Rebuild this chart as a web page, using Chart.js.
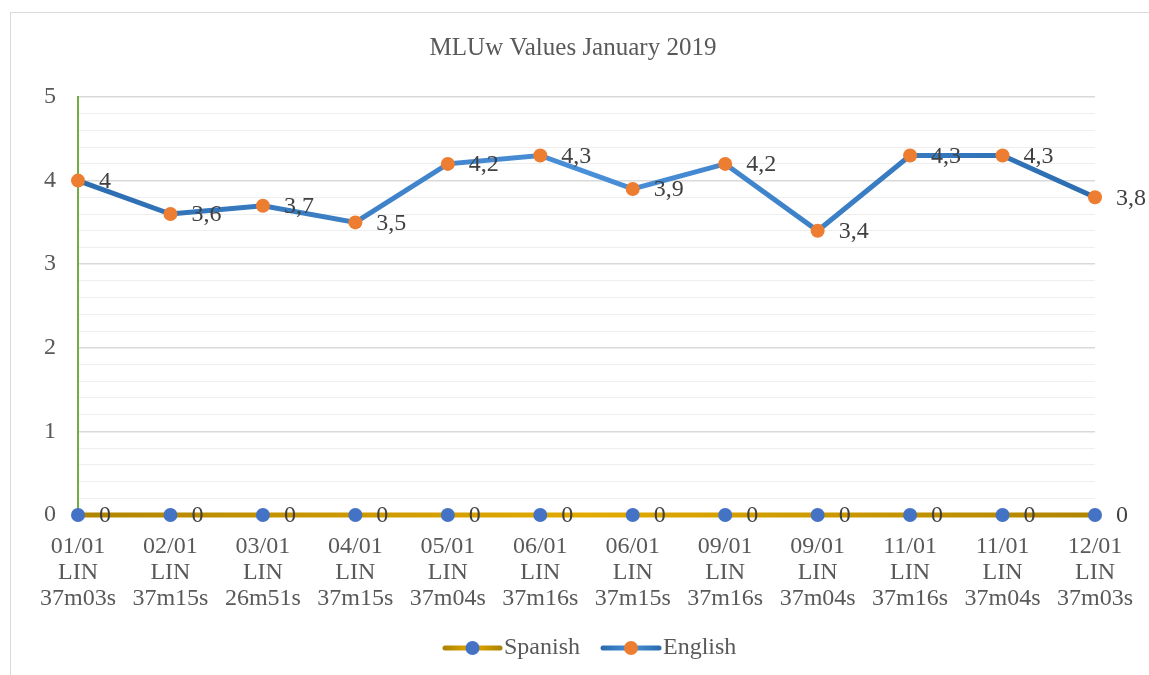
<!DOCTYPE html>
<html>
<head>
<meta charset="utf-8">
<title>MLUw Values January 2019</title>
<script src="https://cdn.jsdelivr.net/npm/chart.js@4/dist/chart.umd.min.js"></script>
<style>
  html, body { margin: 0; padding: 0; background: #fff; }
  #wrap { position: relative; width: 1149px; height: 675px; }
</style>
</head>
<body>
<div id="wrap"><canvas id="mluChart" width="1149" height="675"></canvas></div>
<script>
// ---- data ----
const sessions = [
    ['01/01', 'LIN', '37m03s'], ['02/01', 'LIN', '37m15s'], ['03/01', 'LIN', '26m51s'],
    ['04/01', 'LIN', '37m15s'], ['05/01', 'LIN', '37m04s'], ['06/01', 'LIN', '37m16s'],
    ['06/01', 'LIN', '37m15s'], ['09/01', 'LIN', '37m16s'], ['09/01', 'LIN', '37m04s'],
    ['11/01', 'LIN', '37m16s'], ['11/01', 'LIN', '37m04s'], ['12/01', 'LIN', '37m03s']
];
const spanishValues = [0, 0, 0, 0, 0, 0, 0, 0, 0, 0, 0, 0];
const englishValues = [4, 3.6, 3.7, 3.5, 4.2, 4.3, 3.9, 4.2, 3.4, 4.3, 4.3, 3.8];
const yTicks = { min: 0, max: 5, step: 0.2 };
const chartTitle = 'MLUw Values January 2019';

const FONT = "'Liberation Serif', 'Times New Roman', serif";
const TEXT = '#595959';

// horizontal gradient, dark at the ends and lighter in the middle
function hGradient(context, dark, light) {
    const { ctx, chartArea } = context.chart;
    if (!chartArea) return dark;
    const g = ctx.createLinearGradient(chartArea.left, 0, chartArea.right, 0);
    g.addColorStop(0, dark);
    g.addColorStop(0.5, light);
    g.addColorStop(1, dark);
    return g;
}

const isWhole = v => Math.abs(v - Math.round(v)) < 1e-6;

// frame round the whole chart + title centred on the page
const framePlugin = {
    id: 'frame',
    beforeDraw(chart) {
        const ctx = chart.ctx;
        ctx.save();
        ctx.strokeStyle = '#d9d9d9';
        ctx.lineWidth = 1;
        ctx.strokeRect(10.5, 12.5, 1160, 700);
        ctx.font = '25px ' + FONT;
        ctx.fillStyle = TEXT;
        ctx.textAlign = 'center';
        ctx.textBaseline = 'middle';
        ctx.fillText(chartTitle, 573, 48);
        ctx.restore();
    }
};

// value labels to the right of each point
const valueLabels = {
    id: 'valueLabels',
    afterDatasetsDraw(chart) {
        const ctx = chart.ctx;
        ctx.save();
        ctx.font = '24px ' + FONT;
        ctx.fillStyle = '#404040';
        ctx.textAlign = 'left';
        ctx.textBaseline = 'middle';
        chart.data.datasets.forEach((ds, i) => {
            chart.getDatasetMeta(i).data.forEach((pt, j) => {
                const txt = String(ds.data[j]).replace('.', ',');
                ctx.fillText(txt, pt.x + 21, pt.y + 1);
            });
        });
        ctx.restore();
    }
};

// legend drawn like Excel: line with a marker in the middle
const lineLegend = {
    id: 'lineLegend',
    afterDraw(chart) {
        const ctx = chart.ctx;
        const y = 648;
        const items = [
            { x0: 445, x1: 500, label: 'Spanish', dark: '#b08400', light: '#e3ab00', marker: '#4472c4' },
            { x0: 603, x1: 659, label: 'English', dark: '#2c6db0', light: '#4a90d9', marker: '#ed7d31' }
        ];
        ctx.save();
        items.forEach(it => {
            const g = ctx.createLinearGradient(it.x0, 0, it.x1, 0);
            g.addColorStop(0, it.dark);
            g.addColorStop(0.5, it.light);
            g.addColorStop(1, it.dark);
            ctx.strokeStyle = g;
            ctx.lineWidth = 5;
            ctx.lineCap = 'round';
            ctx.beginPath();
            ctx.moveTo(it.x0, y);
            ctx.lineTo(it.x1, y);
            ctx.stroke();
            ctx.fillStyle = it.marker;
            ctx.beginPath();
            ctx.arc((it.x0 + it.x1) / 2, y, 7, 0, Math.PI * 2);
            ctx.fill();
            ctx.font = '24px ' + FONT;
            ctx.fillStyle = TEXT;
            ctx.textAlign = 'left';
            ctx.textBaseline = 'middle';
            ctx.fillText(it.label, it.x1 + 4, y);
        });
        ctx.restore();
    }
};

new Chart(document.getElementById('mluChart'), {
    type: 'line',
    data: {
        labels: sessions,
        datasets: [
            {
                label: 'Spanish',
                data: spanishValues,
                borderColor: ctx => hGradient(ctx, '#b08400', '#e3ab00'),
                borderWidth: 5,
                pointRadius: 7,
                pointHoverRadius: 7,
                pointBackgroundColor: '#4472c4',
                pointBorderColor: '#4472c4',
                pointBorderWidth: 0,
                tension: 0,
                clip: false
            },
            {
                label: 'English',
                data: englishValues,
                borderColor: ctx => hGradient(ctx, '#2c6db0', '#4a90d9'),
                borderWidth: 5,
                pointRadius: 7,
                pointHoverRadius: 7,
                pointBackgroundColor: '#ed7d31',
                pointBorderColor: '#ed7d31',
                pointBorderWidth: 0,
                tension: 0,
                clip: false
            }
        ]
    },
    options: {
        responsive: false,
        animation: false,
        layout: { padding: { left: 0, right: 54, top: 97, bottom: 60 } },
        plugins: {
            legend: { display: false },
            tooltip: { enabled: false },
            title: { display: false }
        },
        scales: {
            x: {
                offset: false,
                grid: { display: false, drawTicks: false },
                border: { display: false },
                ticks: {
                    autoSkip: false,
                    maxRotation: 0,
                    padding: 19,
                    color: TEXT,
                    font: { family: FONT, size: 24, lineHeight: 1.08 }
                },
                afterFit(scale) {
                    scale.height = 100;
                    scale.paddingLeft = 0;
                    scale.paddingRight = 0;
                }
            },
            y: {
                min: yTicks.min,
                max: yTicks.max,
                grid: {
                    drawTicks: false,
                    color: c => isWhole(c.tick.value) ? '#d9d9d9' : '#eeeeee',
                    lineWidth: c => isWhole(c.tick.value) ? 1.5 : 1
                },
                border: { display: true, color: '#70ad47', width: 2 },
                ticks: {
                    stepSize: yTicks.step,
                    autoSkip: false,
                    padding: 22,
                    color: TEXT,
                    font: { family: FONT, size: 24 },
                    callback: v => isWhole(v) ? String(Math.round(v)) : ''
                },
                afterFit(scale) { scale.width = 78; }
            }
        }
    },
    plugins: [framePlugin, valueLabels, lineLegend]
});
</script>
</body>
</html>
